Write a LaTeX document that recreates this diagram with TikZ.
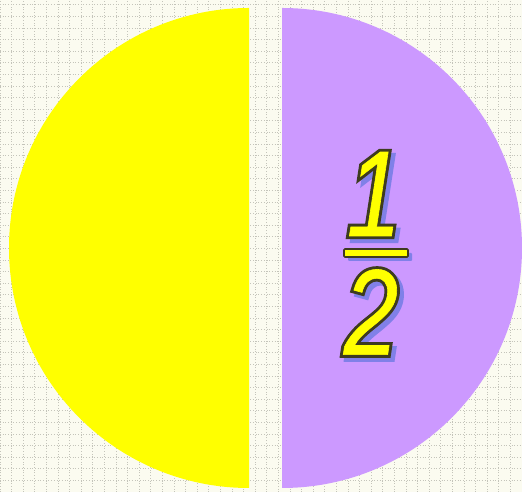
\documentclass[tikz,border=0pt]{standalone}
\usepackage{fontspec}
\setmainfont{Liberation Sans}
\newfontfamily\digitfont[FakeStretch=0.8]{Liberation Sans Italic}
\usetikzlibrary{calc}

\definecolor{paper}{RGB}{251,251,240}
\definecolor{dotgray}{RGB}{196,196,186}
\definecolor{halfyellow}{RGB}{255,255,0}
\definecolor{halfviolet}{RGB}{204,153,255}
\definecolor{inkdark}{RGB}{62,58,30}
\definecolor{shade}{RGB}{128,128,232}

% glyph filled in the text colour and stroked with width #1 in rgb #2
\newcommand{\rimmed}[3]{\special{pdf:literal direct 2 Tr #1 w #2 RG}#3\special{pdf:literal direct 0 Tr}}

\begin{document}
\begin{tikzpicture}[
  x=1bp, y=1bp,
  dots/.style={dotgray, dotted, line width=0.7bp},
  digit/.style={font=\fontsize{122bp}{122bp}\digitfont, inner sep=0pt},
  fracbar/.style={minimum width=64bp, minimum height=8bp, inner sep=0pt,
                  rounded corners=1bp, line width=1.6bp},
]
  \useasboundingbox (0,0) rectangle (522,492);
  \fill[paper] (0,0) rectangle (522,492);
  \draw[dots] (0,0) grid[step=11.6] (522,492);

  % the two halves
  \fill[halfyellow] (249,484) arc (90:270:240) -- cycle;
  \fill[halfviolet] (282,4) arc (-90:90:240) -- cycle;

  % one half
  \coordinate (numpos) at (374,298);
  \coordinate (denpos) at (371,180);
  \coordinate (barpos) at (376,239);
  \node[fracbar, fill=shade] (bars) at ($(barpos)+(4,-4)$) {};
  \node[fracbar, fill=halfyellow, draw=inkdark] (bar) at (barpos) {};
  \node[digit, text=shade] (ones) at ($(numpos)+(4,-4)$) {\rimmed{6.5}{0.50 0.50 0.91}{1}};
  \node[digit, text=shade] (twos) at ($(denpos)+(4,-4)$) {\rimmed{6.5}{0.50 0.50 0.91}{2}};
  \node[digit, text=inkdark] (oner) at (numpos) {\rimmed{6.5}{0.24 0.23 0.12}{1}};
  \node[digit, text=halfyellow] (one) at (numpos) {\rimmed{0.6}{1 1 0}{1}};
  \node[digit, text=inkdark] (twor) at (denpos) {\rimmed{6.5}{0.24 0.23 0.12}{2}};
  \node[digit, text=halfyellow] (two) at (denpos) {\rimmed{0.6}{1 1 0}{2}};
\end{tikzpicture}
\end{document}
